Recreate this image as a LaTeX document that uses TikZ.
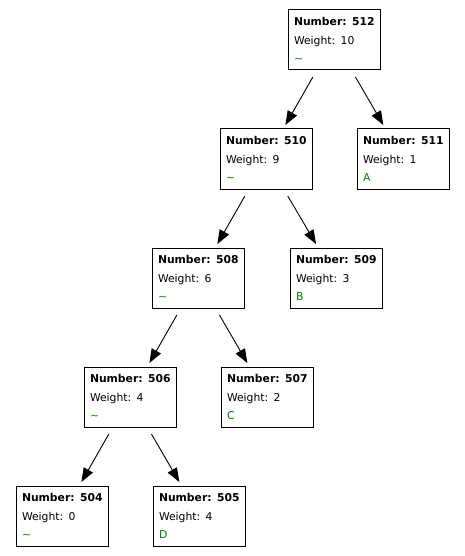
\documentclass[tikz,border=0pt]{standalone}
\usepackage{fontspec}
\setmainfont{DejaVu Sans}
\usetikzlibrary{arrows.meta}
\definecolor{leafgreen}{RGB}{0,128,0}
% Contents of one tree node: number, weight and symbol
\newcommand\huffcontent[3]{\mbox{\textbf{Number: #1}}\\\mbox{Weight: #2}\\\textcolor{leafgreen}{#3}}
\begin{document}
\begin{tikzpicture}[x=1pt,y=-1pt,
  treenode/.style={draw, line width=1pt, rectangle, minimum width=92pt,
    minimum height=60pt, inner xsep=6pt, inner ysep=0pt, text width=80pt,
    align=left, font=\fontsize{10.8}{18.7}\selectfont},
  edge/.style={-{Triangle[length=14pt,width=10.5pt]}, line width=0.9pt,
    shorten <=7.5pt, shorten >=4pt}]
\useasboundingbox (0,0) rectangle (465,556);

\node[treenode] (n512) at (334,40)  {\huffcontent{512}{10}{\textasciitilde}};
\node[treenode] (n510) at (266,159) {\huffcontent{510}{9}{\textasciitilde}};
\node[treenode] (n511) at (403,159) {\huffcontent{511}{1}{A}};
\node[treenode] (n508) at (198,278) {\huffcontent{508}{6}{\textasciitilde}};
\node[treenode] (n509) at (336,278) {\huffcontent{509}{3}{B}};
\node[treenode] (n506) at (130,397) {\huffcontent{506}{4}{\textasciitilde}};
\node[treenode] (n507) at (267,397) {\huffcontent{507}{2}{C}};
\node[treenode] (n504) at (62,516)  {\huffcontent{504}{0}{\textasciitilde}};
\node[treenode] (n505) at (199,516) {\huffcontent{505}{4}{D}};

\draw[edge] (n512) -- (n510);
\draw[edge] (n512) -- (n511);
\draw[edge] (n510) -- (n508);
\draw[edge] (n510) -- (n509);
\draw[edge] (n508) -- (n506);
\draw[edge] (n508) -- (n507);
\draw[edge] (n506) -- (n504);
\draw[edge] (n506) -- (n505);
\end{tikzpicture}
\end{document}
